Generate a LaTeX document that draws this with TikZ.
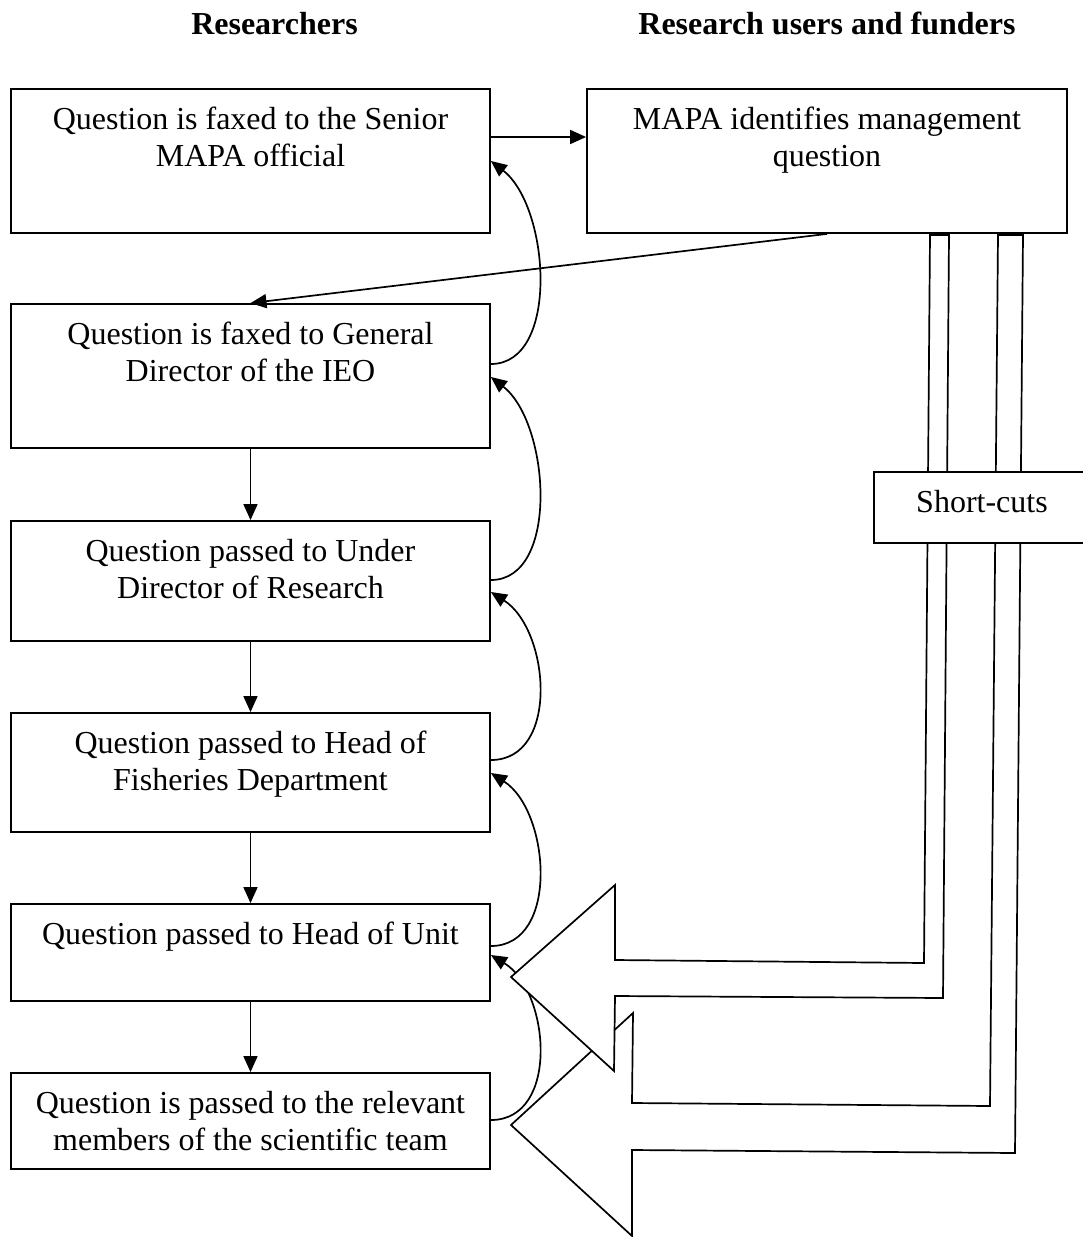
\documentclass[tikz,border=0pt]{standalone}
\usepackage{fontspec}
\setmainfont{Liberation Serif}
\usetikzlibrary{arrows.meta}

% fixed-size box text: lines centred, first baseline 40.5pt below the top
\newcommand\boxlines[3]{\parbox[t][#2][t]{#1}{\centering\rule{0pt}{40.5pt}#3}}

\begin{document}
\begin{tikzpicture}[x=1pt,y=-1pt,
  every node/.style={font=\fontsize{32}{37}\selectfont},
  stage/.style={draw, line width=1.8pt, inner sep=0pt, fill=white},
  heading/.style={font=\fontsize{32}{37}\selectfont\bfseries, anchor=base, inner sep=0pt},
  flow/.style={line width=1.7pt, -{Triangle[length=16pt,width=14pt]}},
  blockarrow/.style={draw, fill=white, line width=1.7pt, line join=miter}]

\useasboundingbox (0,0) rectangle (1083,1237);
\clip (0,0) rectangle (1083,1237);

% column headings
\node[heading] (hres) at (274.5,34) {Researchers};
\node[heading] (huse) at (827,34) {Research users and funders};

% stages of the question
\node[stage] (b1) at (250.5,161) {\boxlines{479pt}{144pt}{Question is faxed to the Senior\\MAPA official}};
\node[stage] (b2) at (827,161) {\boxlines{480pt}{144pt}{MAPA identifies management\\question}};
\node[stage] (b3) at (250.5,376) {\boxlines{479pt}{144pt}{Question is faxed to General\\Director of the IEO}};
\node[stage] (b4) at (250.5,581) {\boxlines{479pt}{120pt}{Question passed to Under\\Director of Research}};
\node[stage] (b5) at (250.5,772.5) {\boxlines{479pt}{119pt}{Question passed to Head of\\Fisheries Department}};
\node[stage] (b6) at (250.5,952.5) {\boxlines{479pt}{97pt}{Question passed to Head of Unit}};
\node[stage] (b7) at (250.5,1121) {\boxlines{479pt}{96pt}{Question is passed to the relevant\\members of the scientific team}};

% downward flow
\draw[flow] (b1.east |- 0,137) -- (b2.west |- 0,137);
\draw[flow] (b2.south) -- (b3.north);
\draw[flow] (b3.south) -- (b4.north);
\draw[flow] (b4.south) -- (b5.north);
\draw[flow] (b5.south) -- (b6.north);
\draw[flow] (b6.south) -- (b7.north);

% answers passed back up the chain
\draw[flow] (b3.east |- 0,364) .. controls (560,364) and (550,207) .. (b1.east |- 0,161);
\draw[flow] (b4.east |- 0,580) .. controls (560,580) and (550,423) .. (b3.east |- 0,377);
\draw[flow] (b5.east |- 0,760) .. controls (560,760) and (550,630) .. (b4.east |- 0,592);
\draw[flow] (b6.east |- 0,946) .. controls (560,946) and (550,811) .. (b5.east |- 0,773);
\draw[flow] (b7.east |- 0,1120) .. controls (560,1120) and (550,991) .. (b6.east |- 0,955);

% short-cut block arrows
\draw[blockarrow] (998,235) -- (990,1106) -- (632,1103) -- (633,1013) -- (511,1125)
  -- (632,1236) -- (632,1150) -- (1015,1153) -- (1023,235) -- cycle;
\draw[blockarrow] (930,235) -- (924,963) -- (615,960) -- (615,885) -- (511,977)
  -- (614,1071) -- (615,996) -- (943,998) -- (949,235) -- cycle;

\node[stage] (sc) at (982,507.5) {\boxlines{216pt}{71pt}{Short-cuts}};

\end{tikzpicture}
\end{document}
